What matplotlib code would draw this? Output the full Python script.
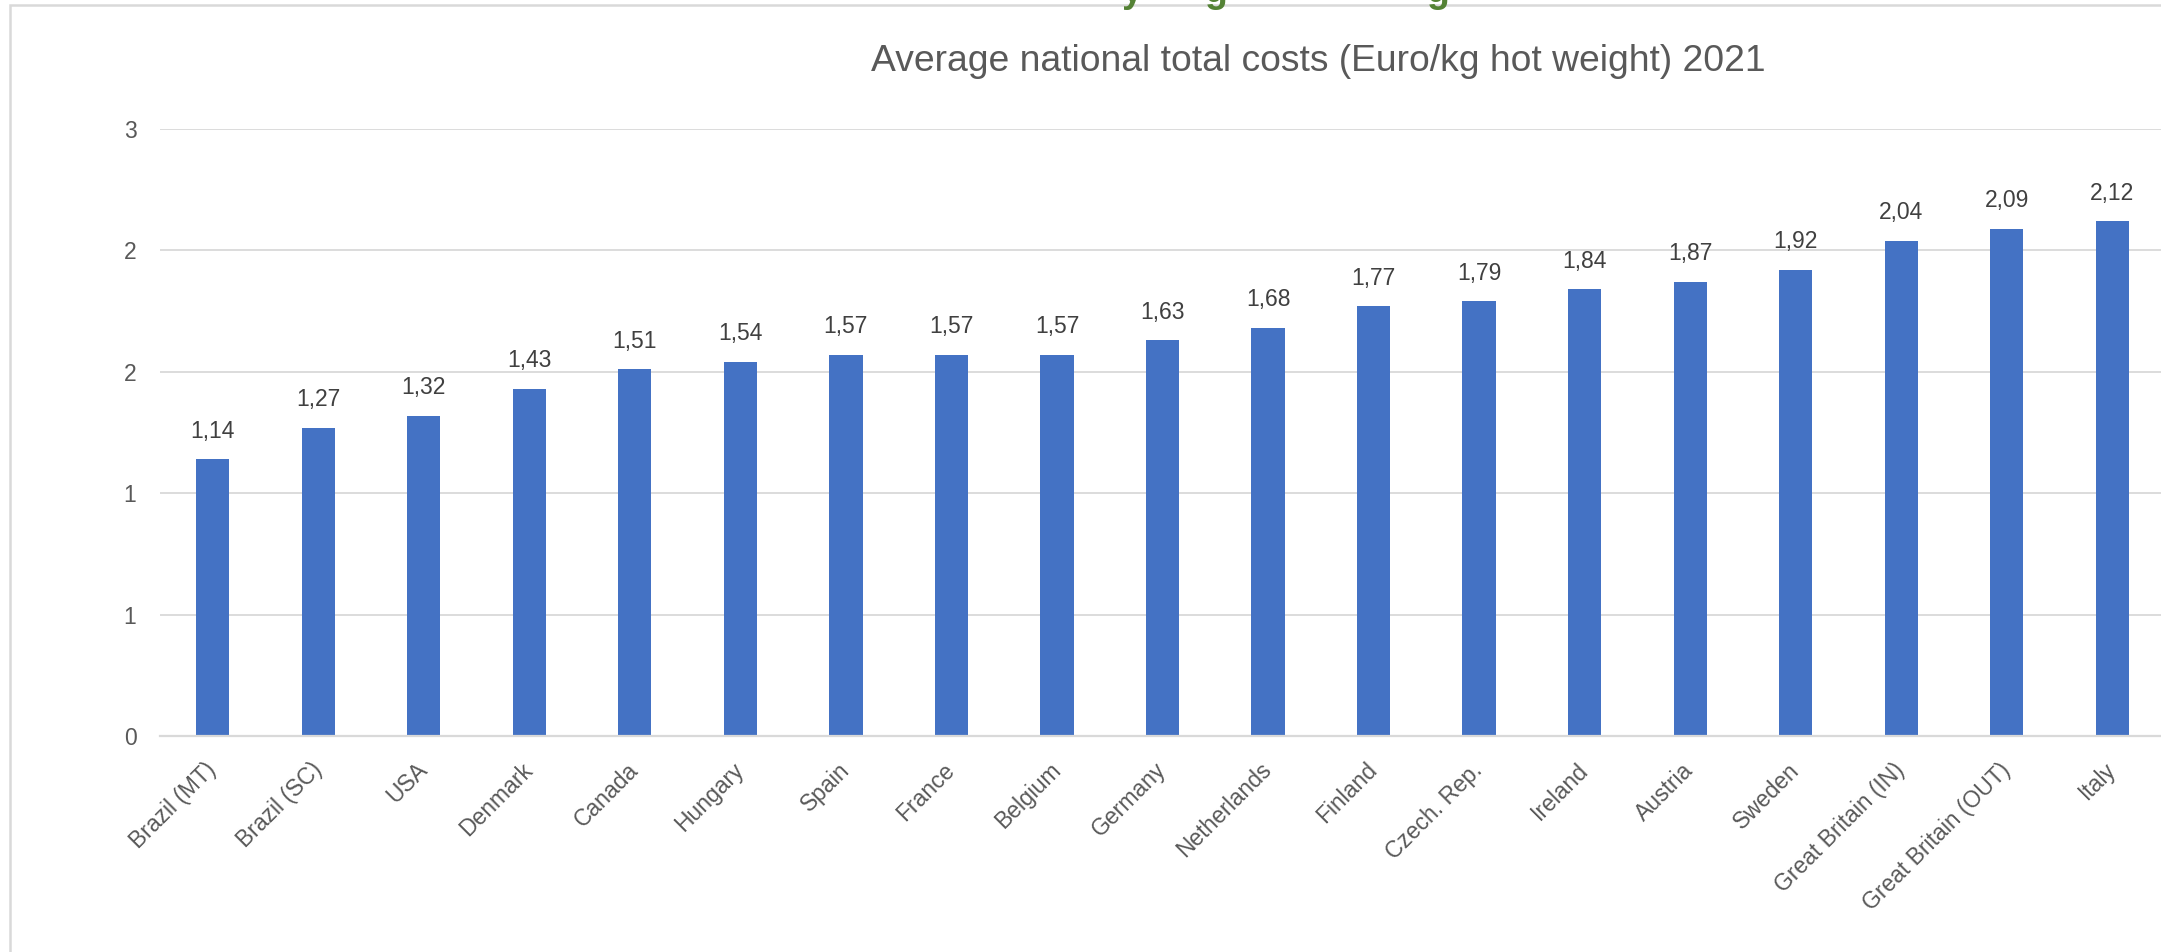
import matplotlib.pyplot as plt
from matplotlib.patches import Rectangle
import numpy as np

countries = ["Brazil (MT)", "Brazil (SC)", "USA", "Denmark", "Canada", "Hungary",
             "Spain", "France", "Belgium", "Germany", "Netherlands", "Finland",
             "Czech. Rep.", "Ireland", "Austria", "Sweden", "Great Britain (IN)",
             "Great Britain (OUT)", "Italy"]
costs = [1.14, 1.27, 1.32, 1.43, 1.51, 1.54, 1.57, 1.57, 1.57, 1.63, 1.68, 1.77,
         1.79, 1.84, 1.87, 1.92, 2.04, 2.09, 2.12]
y_ticks = [0, 0.5, 1.0, 1.5, 2.0, 2.5]
y_tick_labels = ["0", "1", "1", "2", "2", "3"]  # excel "0" number format
title = "Average national total costs (Euro/kg hot weight) 2021"

plt.rcParams['font.family'] = ['Liberation Sans', 'DejaVu Sans']
W, H = 2161, 952
fig = plt.figure(figsize=(W / 100, H / 100), dpi=100)
fig.patch.set_facecolor("white")

# chart frame (cut off on right and bottom)
fig.patches.append(Rectangle((10 / W, -0.1), 1.2, 1 - 4.5 / H + 0.1,
                             transform=fig.transFigure, fill=False,
                             edgecolor="#d9d9d9", linewidth=1.8))

# bits of the slide heading, clipped at top
for ch, xp in [("y", 1122), ("g", 1204), ("g", 1426)]:
    fig.text(xp / W, 1 - 1.5 / H, ch, color="#548235", fontsize=27,
             fontweight="bold", ha="left", va="baseline")

ax = fig.add_axes([160 / W, 1 - 736 / H, 2005 / W, (736 - 129) / H])
x = np.arange(len(countries))
bars = ax.bar(x, costs, width=0.315, color="#4472C4", zorder=3)

for xi, v in zip(x, costs):
    ax.annotate(f"{v:.2f}".replace(".", ","), (xi, v), xytext=(0, 12),
                textcoords="offset points", ha="center", va="bottom",
                fontsize=16.5, color="#404040")

ax.set_xlim(-0.5, len(countries) - 0.5)
ax.set_ylim(0, 2.5)
ax.set_yticks(y_ticks)
ax.set_yticklabels(y_tick_labels)
ax.set_xticks(x)
ax.set_xticklabels(countries, rotation=45, ha="right", va="center",
                   rotation_mode="anchor")
ax.tick_params(axis="both", length=0, labelsize=16.5, colors="#595959")
ax.tick_params(axis="y", pad=17)
ax.tick_params(axis="x", pad=22)
ax.grid(axis="y", color="#d9d9d9", linewidth=1.3, zorder=0)
for s in ["top", "right", "left"]:
    ax.spines[s].set_visible(False)
ax.spines["bottom"].set_color("#d9d9d9")
ax.spines["bottom"].set_linewidth(1.6)
ax.spines["bottom"].set_zorder(4)

fig.text(1318 / W, 1 - 71 / H, title, fontsize=26.8, color="#595959",
         ha="center", va="baseline")

fig.savefig("out.png", dpi=100)
